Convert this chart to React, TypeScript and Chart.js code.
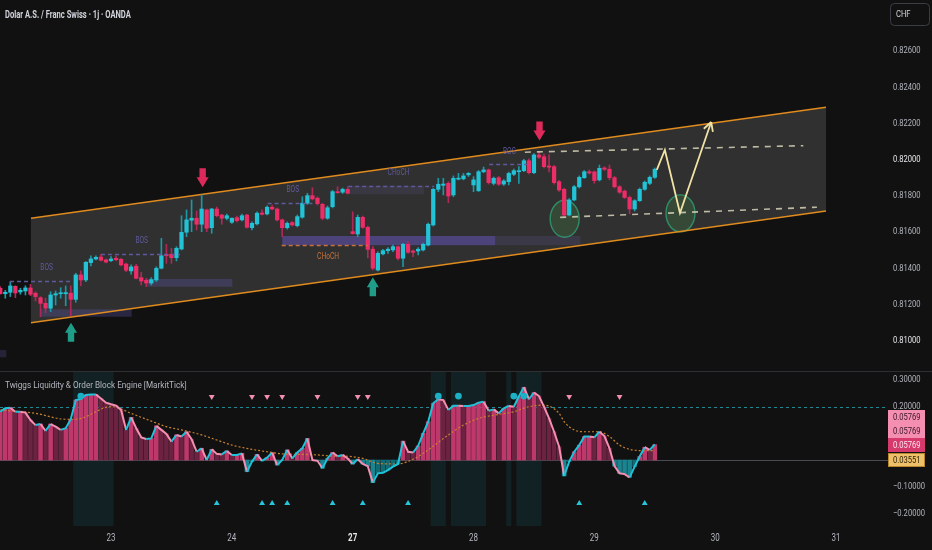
import React, { useEffect, useRef } from 'react';
import { Chart, registerables } from 'chart.js';

Chart.register(...registerables);

// ---------------- data ----------------
const opens = [
  0.81289, 0.81259, 0.81267, 0.81300, 0.81269, 0.81274, 0.81291, 0.81262, 0.81237, 0.81206,
  0.81179, 0.81252, 0.81259, 0.81259, 0.81262, 0.81228, 0.81363, 0.81335, 0.81431, 0.81451,
  0.81462, 0.81446, 0.81442, 0.81455, 0.81449, 0.81423, 0.81385, 0.81411, 0.81348, 0.81333,
  0.81318, 0.81335, 0.81400, 0.81477, 0.81477, 0.81458, 0.81506, 0.81599, 0.81665, 0.81676,
  0.81643, 0.81722, 0.81624, 0.81727, 0.81694, 0.81676, 0.81654, 0.81679, 0.81667, 0.81694,
  0.81624, 0.81645, 0.81705, 0.81700, 0.81737, 0.81727, 0.81667, 0.81624, 0.81652, 0.81635,
  0.81682, 0.81759, 0.81801, 0.81787, 0.81753, 0.81676, 0.81740, 0.81823, 0.81820, 0.81836,
  0.81602, 0.81589, 0.81681, 0.81626, 0.81505, 0.81390, 0.81479, 0.81497, 0.81501, 0.81519,
  0.81455, 0.81532, 0.81495, 0.81495, 0.81501, 0.81528, 0.81639, 0.81836, 0.81858, 0.81869,
  0.81805, 0.81892, 0.81894, 0.81916, 0.81860, 0.81828, 0.81933, 0.81943, 0.81869, 0.81900,
  0.81865, 0.81878, 0.81919, 0.81933, 0.81939, 0.81994, 0.81928, 0.82026, 0.82016, 0.81965,
  0.81961, 0.81878, 0.81836, 0.81694, 0.81777, 0.81850, 0.81900, 0.81933, 0.81932, 0.81888,
  0.81954, 0.81947, 0.81900, 0.81850, 0.81826, 0.81791, 0.81727, 0.81773, 0.81836, 0.81869,
  0.81902,
];
const highs = [
  0.81298, 0.81278, 0.81326, 0.81303, 0.81289, 0.81303, 0.81311, 0.81270, 0.81243, 0.81234,
  0.81270, 0.81274, 0.81292, 0.81302, 0.81302, 0.81372, 0.81385, 0.81436, 0.81468, 0.81468,
  0.81477, 0.81451, 0.81464, 0.81468, 0.81455, 0.81429, 0.81418, 0.81422, 0.81377, 0.81344,
  0.81348, 0.81408, 0.81565, 0.81532, 0.81510, 0.81519, 0.81690, 0.81722, 0.81777, 0.81716,
  0.81805, 0.81727, 0.81731, 0.81738, 0.81698, 0.81699, 0.81679, 0.81688, 0.81699, 0.81698,
  0.81656, 0.81711, 0.81722, 0.81744, 0.81749, 0.81733, 0.81672, 0.81656, 0.81658, 0.81694,
  0.81795, 0.81814, 0.81845, 0.81794, 0.81759, 0.81744, 0.81830, 0.81850, 0.81843, 0.81850,
  0.81712, 0.81694, 0.81688, 0.81633, 0.81519, 0.81490, 0.81504, 0.81514, 0.81528, 0.81524,
  0.81537, 0.81547, 0.81501, 0.81514, 0.81539, 0.81650, 0.81841, 0.81897, 0.81897, 0.81878,
  0.81910, 0.81924, 0.81924, 0.81929, 0.81906, 0.81940, 0.81959, 0.81948, 0.81904, 0.81907,
  0.81890, 0.81931, 0.81948, 0.81961, 0.82001, 0.82004, 0.82034, 0.82042, 0.82031, 0.82026,
  0.81968, 0.81885, 0.81843, 0.81785, 0.81857, 0.81910, 0.81940, 0.81943, 0.81937, 0.81970,
  0.81961, 0.81970, 0.81907, 0.81857, 0.81832, 0.81799, 0.81779, 0.81843, 0.81882, 0.81910,
  0.81954,
];
const lows = [
  0.81256, 0.81234, 0.81243, 0.81237, 0.81256, 0.81252, 0.81248, 0.81219, 0.81132, 0.81154,
  0.81160, 0.81197, 0.81234, 0.81193, 0.81138, 0.81212, 0.81303, 0.81326, 0.81412, 0.81446,
  0.81440, 0.81429, 0.81436, 0.81440, 0.81412, 0.81381, 0.81367, 0.81341, 0.81307, 0.81298,
  0.81307, 0.81326, 0.81396, 0.81427, 0.81427, 0.81440, 0.81501, 0.81574, 0.81602, 0.81611,
  0.81602, 0.81602, 0.81593, 0.81683, 0.81643, 0.81667, 0.81648, 0.81656, 0.81661, 0.81621,
  0.81611, 0.81639, 0.81694, 0.81694, 0.81722, 0.81661, 0.81574, 0.81616, 0.81633, 0.81628,
  0.81676, 0.81753, 0.81777, 0.81749, 0.81667, 0.81670, 0.81733, 0.81814, 0.81813, 0.81810,
  0.81588, 0.81574, 0.81620, 0.81457, 0.81390, 0.81385, 0.81473, 0.81482, 0.81491, 0.81446,
  0.81408, 0.81482, 0.81464, 0.81473, 0.81495, 0.81523, 0.81633, 0.81823, 0.81805, 0.81762,
  0.81795, 0.81888, 0.81888, 0.81907, 0.81823, 0.81824, 0.81927, 0.81865, 0.81860, 0.81857,
  0.81857, 0.81860, 0.81912, 0.81869, 0.81934, 0.81921, 0.81923, 0.82006, 0.81954, 0.81932,
  0.81865, 0.81824, 0.81686, 0.81689, 0.81772, 0.81843, 0.81896, 0.81920, 0.81869, 0.81882,
  0.81940, 0.81888, 0.81843, 0.81813, 0.81785, 0.81700, 0.81716, 0.81769, 0.81830, 0.81862,
  0.81896,
];
const closes = [
  0.81259, 0.81267, 0.81302, 0.81263, 0.81278, 0.81291, 0.81256, 0.81243, 0.81206, 0.81179,
  0.81252, 0.81259, 0.81263, 0.81265, 0.81228, 0.81363, 0.81335, 0.81433, 0.81451, 0.81460,
  0.81444, 0.81434, 0.81451, 0.81447, 0.81418, 0.81389, 0.81407, 0.81344, 0.81329, 0.81318,
  0.81337, 0.81399, 0.81469, 0.81469, 0.81458, 0.81510, 0.81598, 0.81667, 0.81676, 0.81643,
  0.81727, 0.81621, 0.81727, 0.81690, 0.81676, 0.81690, 0.81676, 0.81663, 0.81690, 0.81626,
  0.81648, 0.81704, 0.81698, 0.81737, 0.81727, 0.81667, 0.81624, 0.81648, 0.81639, 0.81685,
  0.81759, 0.81801, 0.81783, 0.81757, 0.81676, 0.81734, 0.81823, 0.81817, 0.81836, 0.81814,
  0.81591, 0.81681, 0.81626, 0.81504, 0.81400, 0.81482, 0.81497, 0.81505, 0.81519, 0.81455,
  0.81532, 0.81488, 0.81488, 0.81505, 0.81532, 0.81643, 0.81836, 0.81864, 0.81865, 0.81799,
  0.81897, 0.81897, 0.81910, 0.81924, 0.81888, 0.81933, 0.81943, 0.81873, 0.81897, 0.81864,
  0.81882, 0.81924, 0.81939, 0.81939, 0.81994, 0.81928, 0.82026, 0.82013, 0.81961, 0.81958,
  0.81873, 0.81832, 0.81694, 0.81777, 0.81850, 0.81902, 0.81933, 0.81926, 0.81884, 0.81952,
  0.81947, 0.81900, 0.81850, 0.81820, 0.81791, 0.81727, 0.81773, 0.81836, 0.81875, 0.81902,
  0.81947,
];

// x axis: hourly bar index, day labels
const dayTickIdx = [22, 46, 70, 94, 118, 142, 166];
const dayTickLabels = ['23', '24', '27', '28', '29', '30', '31'];
const boldDayTick = 70;
const priceTicks = [0.81, 0.812, 0.814, 0.816, 0.818, 0.82, 0.822, 0.824, 0.826];
const brightPriceTicks = [0.82, 0.81];
const oscTicks = [0.3, 0.2, 0.1, 0, -0.1, -0.2];

// oscillator
const osc = [
  0.181, 0.194, 0.196, 0.181, 0.181, 0.178, 0.150, 0.131, 0.135, 0.109,
  0.135, 0.125, 0.113, 0.119, 0.153, 0.225, 0.229, 0.244, 0.246, 0.246,
  0.231, 0.215, 0.209, 0.204, 0.188, 0.113, 0.160, 0.119, 0.085, 0.079,
  0.081, 0.128, 0.113, 0.098, 0.069, 0.094, 0.088, 0.106, 0.078, 0.031,
  0.044, 0.000, 0.040, 0.023, 0.021, 0.034, 0.019, 0.019, 0.025, -0.044,
  -0.006, 0.021, -0.003, 0.009, 0.028, -0.019, 0.000, 0.038, 0.006, 0.028,
  0.044, 0.081, 0.000, -0.003, -0.031, 0.006, 0.028, 0.014, 0.019, 0.006,
  -0.015, 0.003, -0.015, -0.023, -0.085, -0.050, -0.048, -0.038, -0.025, -0.015,
  0.071, 0.031, 0.028, 0.053, 0.100, 0.144, 0.213, 0.228, 0.225, 0.188,
  0.204, 0.204, 0.203, 0.203, 0.206, 0.215, 0.219, 0.185, 0.190, 0.175,
  0.194, 0.203, 0.200, 0.238, 0.273, 0.228, 0.253, 0.240, 0.200, 0.156,
  0.106, 0.050, -0.060, -0.006, 0.031, 0.056, 0.088, 0.088, 0.085, 0.106,
  0.090, 0.044, -0.023, -0.050, -0.053, -0.065, -0.025, 0.013, 0.048, 0.038,
  0.058,
];
const signalIdx = [0, 7, 13, 15, 22, 23, 26, 30, 33, 36, 40, 43, 46, 50, 53, 56, 60, 63, 66, 69, 72, 75, 79, 81, 83, 85, 89, 92, 95, 99, 102, 105, 108, 111, 112, 114, 116, 119, 121, 123, 125, 128, 130];
const signalVal = [0.188, 0.175, 0.153, 0.153, 0.200, 0.198, 0.175, 0.146, 0.125, 0.113, 0.094, 0.075, 0.056, 0.040, 0.031, 0.023, 0.021, 0.019, 0.015, 0.014, 0.006, -0.013, -0.015, -0.005, 0.013, 0.038, 0.094, 0.131, 0.156, 0.171, 0.181, 0.200, 0.206, 0.175, 0.144, 0.113, 0.106, 0.106, 0.088, 0.056, 0.040, 0.035, 0.0355];
const oscLevel = 0.2;
const downTriIdx = [42, 50, 53, 56, 63, 71, 73, 113, 123];
const upTriIdx = [43, 52, 54, 57, 66, 72, 81, 115, 128];
const dotIdx = [16, 87, 91, 102, 104];
const topMarkerLevel = 0.2375;
const bottomMarkerLevel = -0.1625;
const dotLevel = 0.24;
const shadeFrom = [14.5, 85.5, 89.5, 100.5, 102.5];
const shadeTo = [22.5, 88.5, 96.5, 101.5, 107.5];
const lastValueLabels = [0.05769, 0.05769, 0.05769, 0.03551];

// drawings on the price pane (bar index, price)
const channelX = [6.1, 164.0];
const channelTop = [0.81676, 0.82289];
const channelBottom = [0.81099, 0.81716];
const obX0 = [7.9, 29.1, 56.0, 98.3, 69.1, -0.5];
const obX1 = [26.1, 46.1, 98.3, 115.2, 84.2, 1.2];
const obTop = [0.81173, 0.81341, 0.81578, 0.81578, 0.81856, 0.80948];
const obBottom = [0.81132, 0.81298, 0.81527, 0.81527, 0.81809, 0.80908];
const structX0 = [1.94, 20.0, 53.1, 69.1, 97.1, 55.9];
const structX1 = [14.2, 35.7, 62.0, 86.2, 104.7, 73.0];
const structP = [0.81331, 0.81479, 0.81759, 0.81856, 0.81974, 0.81527];
const structLabels = ['BOS', 'BOS', 'BOS', 'CHoCH', 'BOS', 'CHoCH'];
const structLabelX = [9.2, 28.1, 58.1, 79.1, 101.1, 65.1];
const structLabelP = [0.81403, 0.81552, 0.81832, 0.81928, 0.82041, 0.81460];
const levelX0 = [104.2, 111.2];
const levelX1 = [159.5, 162.2];
const levelP0 = [0.82041, 0.81681];
const levelP1 = [0.82077, 0.81737];
const zoneX = [112.1, 135.1];
const zoneP = [0.81673, 0.81703];
const pathX = [130.4, 132.0, 135.0, 141.2];
const pathP = [0.81943, 0.82053, 0.81705, 0.82208];
const downArrowX = [40.2, 107.1];
const downArrowP = [0.81847, 0.82105];
const upArrowX = [14.05, 74.0];
const upArrowP = [0.81099, 0.81350];

const titleText = 'Dolar A.S. / Franc Swiss · 1j · OANDA';
const oscTitle = 'Twiggs Liquidity & Order Block Engine [MarkitTick]';
const currencyText = 'CHF';

// ---------------- styles / layout ----------------
const FONT = 'Roboto, "Noto Sans", sans-serif';
const NARROW = 0.8;
const BG = '#111111';
const BULL = '#22c3d6';
const BEAR = '#ec2d68';
const BULL_WICK = '#1a98a6';
const BEAR_WICK = '#b0285a';
const AXIS_TXT = '#b2b5be';
const BRIGHT_TXT = '#e6e7ea';
const ORANGE = '#e08b1e';
const OB_FILL = [
  'rgba(100,88,180,0.30)', 'rgba(100,88,180,0.30)', 'rgba(104,88,200,0.48)',
  'rgba(100,92,160,0.22)', 'rgba(100,92,160,0.16)', 'rgba(90,80,150,0.30)',
];
const STRUCT_COLOR = ['#5e5a9c', '#5e5a9c', '#5e5a9c', '#5e5a9c', '#5e5a9c', '#c87239'];
const LABEL_BOX = [
  { bg: '#f48fb1', fg: '#3a1424', border: '#f48fb1' },
  { bg: '#f48fb1', fg: '#3a1424', border: '#f48fb1' },
  { bg: '#d63a6d', fg: '#ffe6ee', border: '#d63a6d' },
  { bg: '#eec06a', fg: '#2a2008', border: '#b8862c' },
];
const X_MIN = -0.05;
const X_MAX = 174.73;
const P_MAX = 0.82882;
const P_MIN = 0.80832;
const O_MAX = 0.334;
const O_MIN = -0.2477;
const TICK_PAD = 13;

const fmt = (v: number) => (v < 0 ? '\u2212' + Math.abs(v).toFixed(5) : v.toFixed(5));

function text(ctx: any, s: string, x: number, y: number, font: string, color: string, align = 'left', squeeze = NARROW) {
  ctx.save();
  ctx.font = font;
  ctx.fillStyle = color;
  ctx.textAlign = align;
  ctx.textBaseline = 'middle';
  ctx.translate(x, y);
  ctx.scale(squeeze, 1);
  ctx.fillText(s, 0, 0);
  ctx.restore();
}

function arrowPath(ctx: any, tx: number, ty: number, dir: number) {
  const L = 19, H = 10, sw = 3.2, hw = 6;
  ctx.beginPath();
  ctx.moveTo(tx - sw, ty - dir * L);
  ctx.lineTo(tx + sw, ty - dir * L);
  ctx.lineTo(tx + sw, ty - dir * H);
  ctx.lineTo(tx + hw, ty - dir * H);
  ctx.lineTo(tx, ty);
  ctx.lineTo(tx - hw, ty - dir * H);
  ctx.lineTo(tx - sw, ty - dir * H);
  ctx.closePath();
}

const zeroPad = (s: any) => {
  s.paddingTop = 0;
  s.paddingBottom = 0;
  s.paddingLeft = 0;
  s.paddingRight = 0;
};

const drawings = {
  id: 'drawings',
  beforeDraw(chart: any) {
    const { ctx, width, height } = chart;
    ctx.save();
    ctx.fillStyle = BG;
    ctx.fillRect(0, 0, width, height);
    ctx.restore();
  },
  beforeDatasetsDraw(chart: any) {
    const { ctx, scales } = chart;
    const xs = scales.x, ys = scales.y, yo = scales.yo;
    const X = (v: number) => xs.getPixelForValue(v);
    const Y = (v: number) => ys.getPixelForValue(v);
    const YO = (v: number) => yo.getPixelForValue(v);

    ctx.save();
    ctx.beginPath();
    ctx.rect(xs.left, ys.top, xs.right - xs.left, ys.bottom - ys.top);
    ctx.clip();
    ctx.beginPath();
    ctx.moveTo(X(channelX[0]), Y(channelTop[0]));
    ctx.lineTo(X(channelX[1]), Y(channelTop[1]));
    ctx.lineTo(X(channelX[1]), Y(channelBottom[1]));
    ctx.lineTo(X(channelX[0]), Y(channelBottom[0]));
    ctx.closePath();
    ctx.fillStyle = 'rgba(255,255,255,0.135)';
    ctx.fill();
    obX0.forEach((x0, k) => {
      const l = X(x0), r = X(obX1[k]), t = Y(obTop[k]), b = Y(obBottom[k]);
      ctx.fillStyle = OB_FILL[k];
      ctx.fillRect(l, t, r - l, b - t);
    });
    zoneX.forEach((zx, k) => {
      ctx.beginPath();
      ctx.ellipse(X(zx), Y(zoneP[k]), 14.5, 18.5, 0, 0, Math.PI * 2);
      ctx.fillStyle = 'rgba(76,175,80,0.2)';
      ctx.fill();
      ctx.strokeStyle = 'rgba(48,150,110,0.9)';
      ctx.lineWidth = 1.4;
      ctx.stroke();
    });
    ctx.strokeStyle = ORANGE;
    ctx.lineWidth = 1.6;
    ctx.beginPath();
    ctx.moveTo(X(channelX[0]), Y(channelTop[0]));
    ctx.lineTo(X(channelX[1]), Y(channelTop[1]));
    ctx.stroke();
    ctx.beginPath();
    ctx.moveTo(X(channelX[0]), Y(channelBottom[0]));
    ctx.lineTo(X(channelX[1]), Y(channelBottom[1]));
    ctx.stroke();
    ctx.restore();

    ctx.save();
    ctx.beginPath();
    ctx.rect(xs.left, yo.top, xs.right - xs.left + 8, yo.bottom - yo.top);
    ctx.clip();
    ctx.fillStyle = 'rgba(25,95,105,0.22)';
    shadeFrom.forEach((s, k) => {
      const l = X(s), r = X(shadeTo[k]);
      ctx.fillRect(l, yo.top, r - l, yo.bottom - yo.top);
    });
    ctx.strokeStyle = '#4a4a54';
    ctx.lineWidth = 1;
    ctx.beginPath();
    ctx.moveTo(xs.left, Math.round(YO(0)) + 0.5);
    ctx.lineTo(xs.right + 8, Math.round(YO(0)) + 0.5);
    ctx.stroke();
    ctx.strokeStyle = '#1d8a95';
    ctx.setLineDash([3, 3]);
    ctx.beginPath();
    ctx.moveTo(xs.left, Math.round(YO(oscLevel)) + 0.5);
    ctx.lineTo(xs.right + 6, Math.round(YO(oscLevel)) + 0.5);
    ctx.stroke();
    ctx.restore();
  },
  afterDatasetsDraw(chart: any) {
    const { ctx, scales } = chart;
    const xs = scales.x, ys = scales.y;
    const X = (v: number) => xs.getPixelForValue(v);
    const Y = (v: number) => ys.getPixelForValue(v);
    ctx.save();
    ctx.beginPath();
    ctx.rect(xs.left, ys.top, xs.right - xs.left, ys.bottom - ys.top);
    ctx.clip();

    structX0.forEach((x0, k) => {
      const yy = Math.round(Y(structP[k])) + 0.5;
      ctx.strokeStyle = STRUCT_COLOR[k];
      ctx.lineWidth = 1.5;
      ctx.setLineDash([4, 3]);
      ctx.beginPath();
      ctx.moveTo(X(x0), yy);
      ctx.lineTo(X(structX1[k]), yy);
      ctx.stroke();
      ctx.setLineDash([]);
      text(ctx, structLabels[k], X(structLabelX[k]), Y(structLabelP[k]), `8.5px ${FONT}`, STRUCT_COLOR[k], 'center', 0.78);
    });

    ctx.strokeStyle = 'rgba(215,210,185,0.85)';
    ctx.lineWidth = 1.6;
    ctx.setLineDash([6, 6]);
    levelX0.forEach((x0, k) => {
      ctx.beginPath();
      ctx.moveTo(X(x0), Y(levelP0[k]));
      ctx.lineTo(X(levelX1[k]), Y(levelP1[k]));
      ctx.stroke();
    });
    ctx.setLineDash([]);

    ctx.strokeStyle = '#f2e2a6';
    ctx.lineWidth = 1.8;
    ctx.lineJoin = 'miter';
    ctx.beginPath();
    pathX.forEach((px, k) => {
      const xx = X(px), yy = Y(pathP[k]);
      if (k === 0) ctx.moveTo(xx, yy); else ctx.lineTo(xx, yy);
    });
    ctx.stroke();
    const n = pathX.length;
    const ex = X(pathX[n - 1]), ey = Y(pathP[n - 1]);
    const sx = X(pathX[n - 2]), sy = Y(pathP[n - 2]);
    const ang = Math.atan2(ey - sy, ex - sx);
    ctx.beginPath();
    [-0.5, 0.5].forEach((d) => {
      ctx.moveTo(ex, ey);
      ctx.lineTo(ex - 10 * Math.cos(ang + d), ey - 10 * Math.sin(ang + d));
    });
    ctx.stroke();

    ctx.fillStyle = '#dd2a5b';
    downArrowX.forEach((ax, k) => {
      arrowPath(ctx, X(ax), Y(downArrowP[k]), 1);
      ctx.fill();
    });
    ctx.fillStyle = '#1f9d89';
    upArrowX.forEach((ax, k) => {
      arrowPath(ctx, X(ax), Y(upArrowP[k]), -1);
      ctx.fill();
    });
    ctx.restore();
  },
  afterDraw(chart: any) {
    const { ctx, scales, width } = chart;
    const xs = scales.x, ys = scales.y, yo = scales.yo;
    const YO = (v: number) => yo.getPixelForValue(v);
    ctx.save();
    ctx.strokeStyle = '#2f2f33';
    ctx.lineWidth = 1;
    ctx.beginPath();
    ctx.moveTo(0, Math.round(ys.bottom) + 0.5);
    ctx.lineTo(width, Math.round(ys.bottom) + 0.5);
    ctx.stroke();
    ctx.restore();

    const tickFont = `9.5px ${FONT}`;
    ys.ticks.forEach((t: any) => {
      const bright = brightPriceTicks.some((b) => Math.abs(b - t.value) < 1e-9);
      text(ctx, fmt(t.value), ys.left + TICK_PAD, ys.getPixelForValue(t.value), tickFont, bright ? BRIGHT_TXT : AXIS_TXT);
    });
    yo.ticks.forEach((t: any) => {
      text(ctx, fmt(t.value), yo.left + TICK_PAD, yo.getPixelForValue(t.value), tickFont, AXIS_TXT);
    });
    xs.ticks.forEach((t: any) => {
      const k = dayTickIdx.indexOf(t.value);
      if (k < 0) return;
      const bold = t.value === boldDayTick;
      text(ctx, dayTickLabels[k], xs.getPixelForValue(t.value), xs.top + 12,
        `${bold ? 'bold ' : ''}10px ${FONT}`, bold ? BRIGHT_TXT : AXIS_TXT, 'center');
    });

    text(ctx, titleText, 5, 15, `bold 10px ${FONT}`, '#d1d4dc', 'left', 0.76);
    text(ctx, oscTitle, 5, ys.bottom + 15, `9.5px ${FONT}`, AXIS_TXT, 'left', 0.86);

    const bx = yo.left + 10, bw = 39, bh = 22, by = 3;
    ctx.save();
    ctx.strokeStyle = '#3a3d45';
    ctx.lineWidth = 1;
    ctx.beginPath();
    ctx.roundRect(bx + 0.5, by + 0.5, bw, bh, 4);
    ctx.stroke();
    ctx.restore();
    text(ctx, currencyText, bx + 6, by + bh / 2 + 1, `9.5px ${FONT}`, '#d1d4dc');

    const lh = 14;
    const cy = YO(lastValueLabels[2]);
    const centers = [cy - 2 * lh, cy - lh, cy, cy + lh + 1];
    const lx = yo.left + 8, lw = 37;
    lastValueLabels.forEach((v, k) => {
      const st = LABEL_BOX[k];
      const top = Math.round(centers[k] - lh / 2);
      ctx.save();
      ctx.fillStyle = st.bg;
      ctx.fillRect(lx, top, lw, lh);
      ctx.strokeStyle = st.border;
      ctx.lineWidth = 1;
      ctx.strokeRect(lx + 0.5, top + 0.5, lw - 1, lh - 1);
      ctx.restore();
      text(ctx, fmt(v), lx + 5, top + lh / 2 + 0.5, tickFont, st.fg);
    });
  },
};

export default function App() {
  const ref = useRef<HTMLCanvasElement | null>(null);

  useEffect(() => {
    document.body.style.margin = '0';
    document.body.style.background = BG;
    const canvas = ref.current;
    if (!canvas) return;

    const bodyColors = opens.map((o, i) => (closes[i] >= o ? BULL : BEAR));
    const wickColors = opens.map((o, i) => (closes[i] >= o ? BULL_WICK : BEAR_WICK));
    const histColors = osc.map((v, i) => {
      const rising = i === 0 || v >= osc[i - 1];
      if (v >= 0) return rising ? '#bf386b' : '#6c2342';
      return rising ? '#126a74' : '#1a8590';
    });

    const chart = new Chart(canvas, {
      type: 'bar',
      data: {
        datasets: [
          {
            type: 'bar',
            label: 'wicks',
            data: highs.map((h, i) => ({ x: i, y: [lows[i], h] })),
            backgroundColor: wickColors,
            barThickness: 1,
            grouped: false,
            xAxisID: 'x',
            yAxisID: 'y',
            order: 5,
          } as any,
          {
            type: 'bar',
            label: 'bodies',
            data: opens.map((o, i) => ({ x: i, y: [o, closes[i]] })),
            backgroundColor: bodyColors,
            barThickness: 3.6,
            minBarLength: 1,
            grouped: false,
            xAxisID: 'x',
            yAxisID: 'y',
            order: 4,
          } as any,
          {
            type: 'bar',
            label: 'histogram',
            data: osc.map((v, i) => ({ x: i, y: v })),
            backgroundColor: histColors,
            barThickness: 4,
            grouped: false,
            xAxisID: 'x',
            yAxisID: 'yo',
            order: 6,
          } as any,
          {
            type: 'line',
            label: 'signal',
            data: signalIdx.map((x, k) => ({ x, y: signalVal[k] })),
            borderColor: '#c9822e',
            borderWidth: 1.2,
            borderDash: [2, 2],
            pointRadius: 0,
            cubicInterpolationMode: 'monotone',
            xAxisID: 'x',
            yAxisID: 'yo',
            order: 3,
          } as any,
          {
            type: 'line',
            label: 'oscillator',
            data: osc.map((v, i) => ({ x: i, y: v })),
            borderColor: '#f48fb1',
            borderWidth: 2,
            pointRadius: 0,
            segment: {
              borderColor: (c: any) => (c.p1.parsed.y >= c.p0.parsed.y ? '#1fc3d9' : '#f48fb1'),
            },
            xAxisID: 'x',
            yAxisID: 'yo',
            order: 2,
          } as any,
          {
            type: 'line',
            label: 'down',
            data: downTriIdx.map((x) => ({ x, y: topMarkerLevel })),
            showLine: false,
            pointStyle: 'triangle',
            pointRotation: 180,
            pointRadius: 3.4,
            pointBackgroundColor: '#f48fb1',
            pointBorderWidth: 0,
            xAxisID: 'x',
            yAxisID: 'yo',
            order: 1,
          } as any,
          {
            type: 'line',
            label: 'up',
            data: upTriIdx.map((x) => ({ x, y: bottomMarkerLevel })),
            showLine: false,
            pointStyle: 'triangle',
            pointRadius: 3.4,
            pointBackgroundColor: '#26c6da',
            pointBorderWidth: 0,
            xAxisID: 'x',
            yAxisID: 'yo',
            order: 1,
          } as any,
          {
            type: 'line',
            label: 'dots',
            data: dotIdx.map((x) => ({ x, y: dotLevel })),
            showLine: false,
            pointStyle: 'circle',
            pointRadius: 3.4,
            pointBackgroundColor: '#1bb0c4',
            pointBorderWidth: 0,
            xAxisID: 'x',
            yAxisID: 'yo',
            order: 1,
          } as any,
        ],
      },
      options: {
        animation: false,
        responsive: false,
        events: [],
        layout: { padding: 0, autoPadding: false },
        plugins: { legend: { display: false }, tooltip: { enabled: false } },
        scales: {
          x: {
            type: 'linear',
            min: X_MIN,
            max: X_MAX,
            offset: false,
            grid: { display: false, drawTicks: false },
            border: { display: false },
            afterBuildTicks: (s: any) => {
              s.ticks = dayTickIdx.map((v) => ({ value: v }));
            },
            afterFit: (s: any) => {
              s.height = 24;
              zeroPad(s);
            },
            ticks: { display: false, autoSkip: false },
          },
          y: {
            type: 'linear',
            position: 'right',
            stack: 'panes',
            stackWeight: 371,
            min: P_MIN,
            max: P_MAX,
            grid: { display: false, drawTicks: false },
            border: { display: false },
            afterBuildTicks: (s: any) => {
              s.ticks = priceTicks.map((v) => ({ value: v }));
            },
            afterFit: (s: any) => {
              s.width = 52;
              zeroPad(s);
            },
            ticks: { display: false },
          },
          yo: {
            type: 'linear',
            position: 'right',
            stack: 'panes',
            stackWeight: 155,
            min: O_MIN,
            max: O_MAX,
            grid: { display: false, drawTicks: false },
            border: { display: false },
            afterBuildTicks: (s: any) => {
              s.ticks = oscTicks.map((v) => ({ value: v }));
            },
            afterFit: (s: any) => {
              s.width = 52;
              zeroPad(s);
            },
            ticks: { display: false },
          },
        },
      } as any,
      plugins: [drawings],
    });

    return () => {
      chart.destroy();
    };
  }, []);

  return (
    <div style={{ width: 932, height: 550, background: BG }}>
      <canvas ref={ref} width={932} height={550} style={{ display: 'block' }} />
    </div>
  );
}
